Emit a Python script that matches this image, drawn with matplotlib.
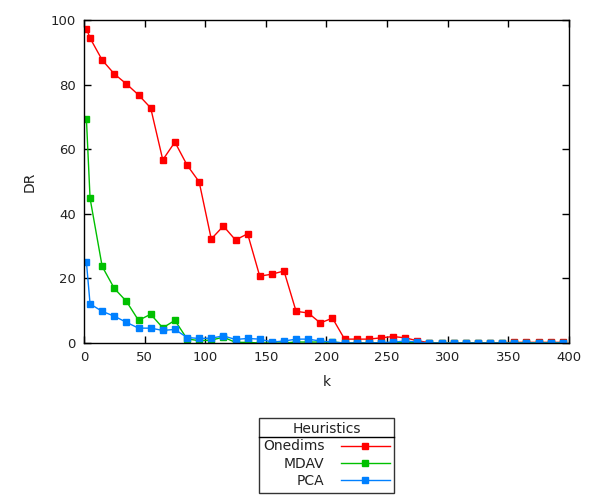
import numpy as np
import matplotlib
matplotlib.use("Agg")
import matplotlib.pyplot as plt
from matplotlib.lines import Line2D

k = [2, 5, 15, 25, 35, 45, 55, 65, 75, 85, 95, 105, 115, 125, 135, 145, 155, 165, 175, 185,
     195, 205, 215, 225, 235, 245, 255, 265, 275, 285, 295, 305, 315, 325, 335, 345, 355, 365,
     375, 385, 395]
onedims = [97.3, 94.4, 87.6, 83.3, 80.2, 76.8, 72.8, 56.7, 62.2, 55.1, 49.9, 32.2, 36.2, 31.9,
           33.8, 20.7, 21.3, 22.3, 9.8, 9.3, 6.2, 7.7, 1.2, 1.2, 1.2, 1.6, 2.0, 1.6, 0.7, 0.1,
           0.0, 0.0, 0.0, 0.1, 0.1, 0.1, 0.2, 0.2, 0.2, 0.2, 0.2]
mdav = [69.3, 44.8, 23.7, 16.9, 12.9, 7.0, 8.9, 4.7, 7.0, 1.3, 0.7, 0.9, 1.8, 0.2, 0.2, 0.0,
        0.0, 0.0, 0.3, 0.3, 0.3, 0.3, 0.0, 0.0, 0.0, 0.1, 0.1, 0.1, 0.1, 0.0, 0.0, 0.0, 0.0,
        0.0, 0.0, 0.0, 0.1, 0.1, 0.1, 0.1, 0.1]
pca = [25.0, 12.1, 9.8, 8.3, 6.4, 4.6, 4.6, 3.9, 4.2, 1.7, 1.4, 1.5, 2.2, 1.1, 1.4, 1.2, 0.3,
       0.6, 1.2, 1.2, 0.6, 0.3, 0.0, 0.0, 0.0, 0.1, 0.3, 0.6, 0.3, 0.0, 0.0, 0.0, 0.0, 0.0,
       0.0, 0.0, 0.0, 0.0, 0.0, 0.0, 0.0]

names = ["Onedims", "MDAV", "PCA"]
colors = ["#ff0000", "#00c000", "#0080ff"]

plt.rcParams["font.family"] = "DejaVu Sans"
fig = plt.figure(figsize=(6, 5), dpi=100)
ax = fig.add_axes([0.14, 0.314, 0.808, 0.646])

for ys, name, c in zip([onedims, mdav, pca], names, colors):
    ax.plot(k, ys, color=c, lw=1, marker="s", ms=5, label=name)

ax.set_xlim(0, 400)
ax.set_ylim(0, 100)
ax.set_xticks(range(0, 401, 50))
ax.set_yticks(range(0, 101, 20))
ax.tick_params(direction="in", top=True, right=True, labelsize=9.5, length=5, width=1, pad=6,
               colors="black", labelcolor="#222222")
for s in ax.spines.values():
    s.set_linewidth(1)
ax.set_xlabel("k", fontsize=10, labelpad=8, color="#222222")
ax.set_ylabel("DR", fontsize=10, labelpad=10, color="#222222")

leg = ax.legend(loc="upper center", bbox_to_anchor=(0.5, -0.21), title="Heuristics",
                markerfirst=False, frameon=True, fancybox=False, edgecolor="black",
                fontsize=10, title_fontsize=10, handlelength=3.5, borderpad=0.3,
                labelspacing=0.25, handletextpad=1.2)
leg.get_frame().set_linewidth(1)
for t in leg.get_texts():
    t.set_ha("right")
    t.set_color("#222222")
leg.get_title().set_color("#222222")

fig.canvas.draw()
tb = leg.get_title().get_window_extent()
fb = leg.get_frame().get_window_extent()
yline = tb.y0 - 1
inv = fig.transFigure.inverted()
(x0, y0) = inv.transform((fb.x0, yline))
(x1, _) = inv.transform((fb.x1, yline))
fig.add_artist(Line2D([x0, x1], [y0, y0], color="black", lw=1, transform=fig.transFigure))

fig.savefig("out.png", dpi=100)
